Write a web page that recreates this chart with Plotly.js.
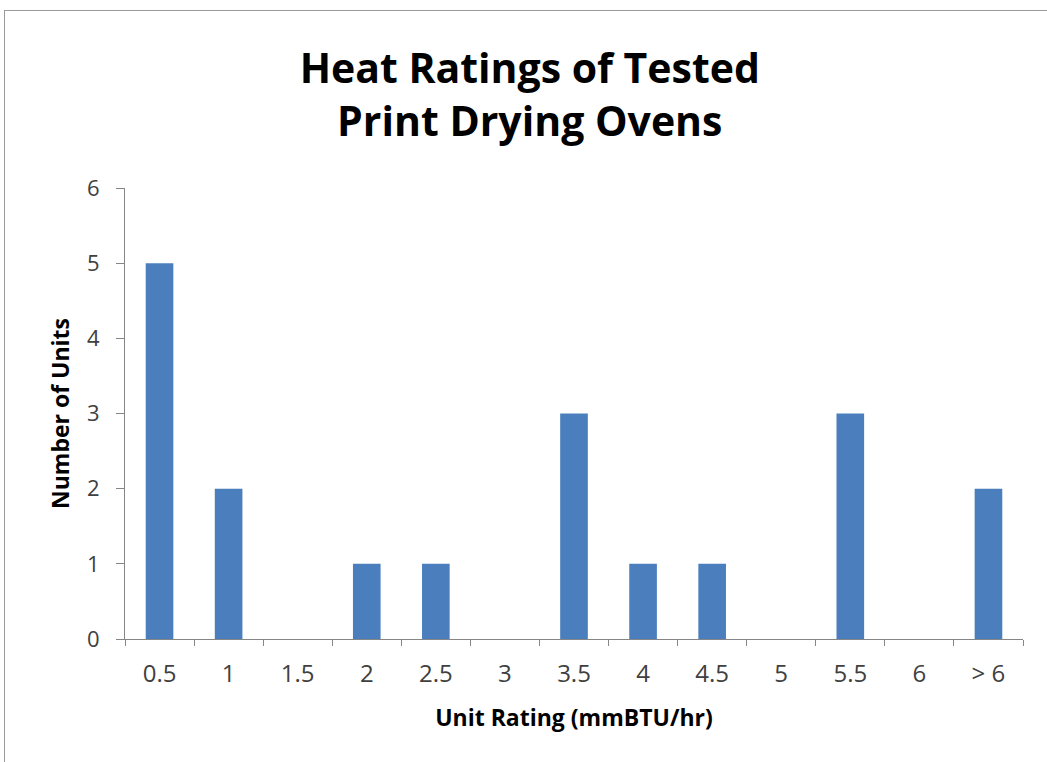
<!DOCTYPE html>
<html><head><meta charset="utf-8">
<script src="https://cdn.plot.ly/plotly-3.0.1.min.js"></script>
<style>
html,body{margin:0;padding:0;background:#fff;}
#frame{position:absolute;left:4px;top:10px;width:1100px;height:800px;border:1px solid #9a9a9a;box-sizing:border-box;pointer-events:none;z-index:5;}
#chart{position:absolute;left:0;top:0;width:1047px;height:762px;}
</style>
</head><body>
<div id="chart"></div>
<div id="frame"></div>
<script>
const categories = ["0.5","1","1.5","2","2.5","3","3.5","4","4.5","5","5.5","6","> 6"];
const units = [5,2,0,1,1,0,3,1,1,0,3,0,2];
const yTicks = [0,1,2,3,4,5,6];

const trace = {
  type: 'bar',
  x: categories,
  y: units,
  marker: {color: '#4a7ebd', line: {width: 0}},
  hoverinfo: 'x+y'
};

const FONT = 'Open Sans, Arial, sans-serif';
const layout = {
  width: 1047, height: 762,
  paper_bgcolor: '#ffffff', plot_bgcolor: '#ffffff',
  margin: {l: 125, r: 24, t: 188, b: 123},
  showlegend: false,
  bargap: 0.6,
  title: {
    text: 'Heat Ratings of Tested<br>Print Drying Ovens',
    font: {family: FONT, size: 41, color: '#000000', weight: 'bold'},
    x: 0.506, xanchor: 'center', y: 0.891, yanchor: 'middle'
  },
  xaxis: {
    type: 'category',
    tickson: 'boundaries',
    ticks: 'outside', ticklen: 6, tickcolor: '#868686', tickwidth: 1,
    ticklabelstandoff: 13,
    showline: true, linecolor: '#868686', linewidth: 1,
    showgrid: false, zeroline: false,
    tickfont: {family: FONT, size: 24, color: '#404040'},
    title: {text: 'Unit Rating (mmBTU/hr)', standoff: 22,
      font: {family: FONT, size: 23, color: '#000000', weight: 'bold'}}
  },
  yaxis: {
    range: [0, 6],
    tickvals: yTicks,
    ticks: 'outside', ticklen: 8, tickcolor: '#868686', tickwidth: 1,
    ticklabelstandoff: 12,
    showline: true, linecolor: '#868686', linewidth: 1,
    showgrid: false, zeroline: false,
    tickfont: {family: FONT, size: 22, color: '#404040'},
    title: {text: 'Number of Units', standoff: 10,
      font: {family: FONT, size: 23, color: '#000000', weight: 'bold'}}
  }
};

Plotly.newPlot('chart', [trace], layout, {displayModeBar: false, staticPlot: true});
</script>
</body></html>
